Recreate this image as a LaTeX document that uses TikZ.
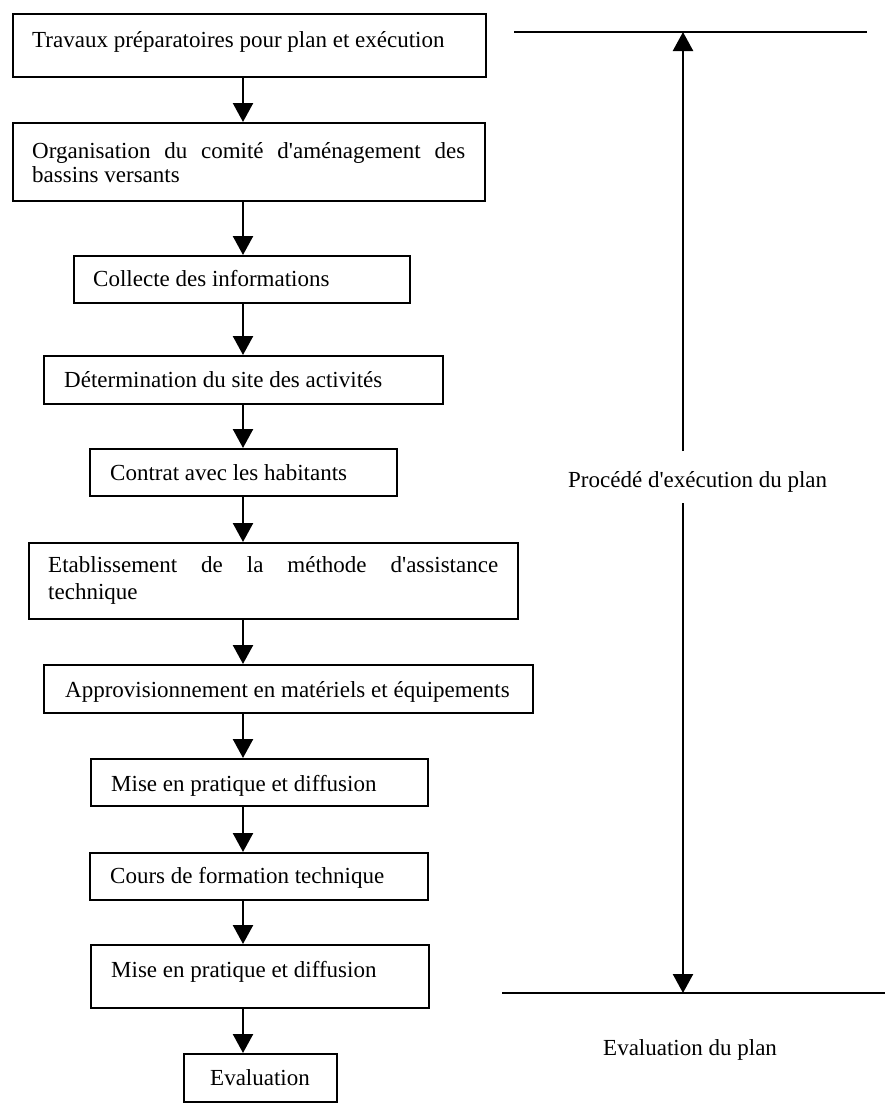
\documentclass[tikz,border=0pt]{standalone}
\usepackage{fontspec}
\setmainfont{Liberation Serif}
\usetikzlibrary{arrows.meta}
\begin{document}
\begin{tikzpicture}[x=1pt,y=-1pt,
  box/.style={draw, line width=1.5pt, rectangle, inner sep=0pt, anchor=north west},
  txt/.style={inner sep=0pt, anchor=base west, font=\fontsize{23}{26}\selectfont},
  arr/.style={line width=2.4pt, -{Triangle[width=20pt,length=19pt]}},
  rline/.style={line width=1.6pt}]
\fill[white] (0,0) rectangle (895,1111);
\useasboundingbox (0,0) rectangle (895,1111);
% boxes
\node[box, minimum width=473, minimum height=63] (b1) at (12,13) {};
\node[box, minimum width=472, minimum height=78] (b2) at (12,122) {};
\node[box, minimum width=336, minimum height=47] (b3) at (73,255) {};
\node[box, minimum width=399, minimum height=48] (b4) at (43,355) {};
\node[box, minimum width=307, minimum height=47] (b5) at (89,448) {};
\node[box, minimum width=489, minimum height=76] (b6) at (28,542) {};
\node[box, minimum width=489, minimum height=48] (b7) at (43,664) {};
\node[box, minimum width=337, minimum height=47] (b8) at (90,758) {};
\node[box, minimum width=338, minimum height=47] (b9) at (89,852) {};
\node[box, minimum width=338, minimum height=63] (b10) at (90,944) {};
\node[box, minimum width=153, minimum height=48] (b11) at (183,1053) {};
% texts
\node[txt] (t1) at (32,47) {Travaux préparatoires pour plan et exécution};
\node[txt] (t2a) at (32,158) {\makebox[433pt][s]{Organisation du comité d\textquotesingle aménagement des}};
\node[txt] (t2b) at (32,182) {bassins versants};
\node[txt] (t3) at (93,286) {Collecte des informations};
\node[txt] (t4) at (64,387) {Détermination du site des activités};
\node[txt] (t5) at (110,480) {Contrat avec les habitants};
\node[txt] (t6a) at (48,572) {\makebox[450pt][s]{Etablissement de la méthode d\textquotesingle assistance}};
\node[txt] (t6b) at (48,599) {technique};
\node[txt] (t7) at (65,697) {Approvisionnement en matériels et équipements};
\node[txt] (t8) at (111,791) {Mise en pratique et diffusion};
\node[txt] (t9) at (110,883) {Cours de formation technique};
\node[txt] (t10) at (111,977) {Mise en pratique et diffusion};
\node[txt] (t11) at (210,1085) {Evaluation};
% arrows
\coordinate (ax) at (243,0);
\draw[arr] (b1.south -| ax) -- (b2.north -| ax);
\draw[arr] (b2.south -| ax) -- (b3.north -| ax);
\draw[arr] (b3.south -| ax) -- (b4.north -| ax);
\draw[arr] (b4.south -| ax) -- (b5.north -| ax);
\draw[arr] (b5.south -| ax) -- (b6.north -| ax);
\draw[arr] (b6.south -| ax) -- (b7.north -| ax);
\draw[arr] (b7.south -| ax) -- (b8.north -| ax);
\draw[arr] (b8.south -| ax) -- (b9.north -| ax);
\draw[arr] (b9.south -| ax) -- (b10.north -| ax);
\draw[arr] (b10.south -| ax) -- (b11.north -| ax);
% right side
\coordinate (tl1) at (514,32);
\coordinate (tl2) at (867,32);
\coordinate (bl1) at (502,993);
\coordinate (bl2) at (885,993);
\draw[rline] (tl1) -- (tl2);
\draw[rline] (bl1) -- (bl2);
\node[txt] (proc) at (568,487) {Procédé d\textquotesingle exécution du plan};
\node[txt] (evp) at (603,1055) {Evaluation du plan};
\coordinate (rx) at (683,0);
\coordinate (pt) at (683,451);
\coordinate (pb) at (683,503);
\draw[arr] (pt) -- (tl1 -| rx);
\draw[arr] (pb) -- (bl1 -| rx);
\end{tikzpicture}
\end{document}
